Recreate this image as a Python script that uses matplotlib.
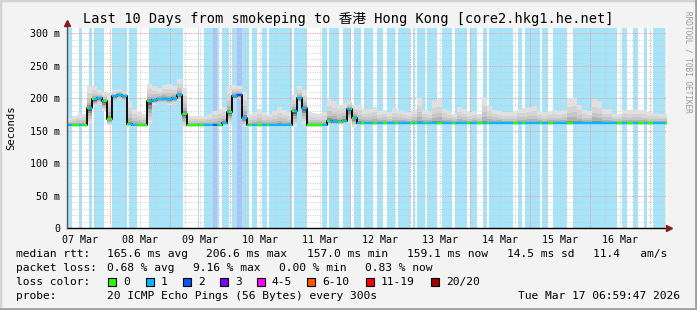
import numpy as np
import matplotlib
matplotlib.use("Agg")
import matplotlib.pyplot as plt
from matplotlib.patches import Rectangle

MONO = "DejaVu Sans Mono"
W, H = 697, 310

# x axis: hours since Sat Mar 07 07:00 (10 days, 240 h)
day_labels = ["07 Mar", "08 Mar", "09 Mar", "10 Mar", "11 Mar",
              "12 Mar", "13 Mar", "14 Mar", "15 Mar", "16 Mar"]
y_ticks = [0, 50, 100, 150, 200, 250, 300]
y_tick_labels = ["0", "50 m", "100 m", "150 m", "200 m", "250 m", "300 m"]

# median rtt per 2-hour bin (ms)
median_ms = ([158, 158, 158, 158, 185, 198, 200, 195, 168, 203, 205, 203,
              160, 158, 158, 158, 195, 197, 199, 199, 198, 200, 205, 175]
             + [158] * 7 + [162, 178, 203, 205, 170] + [158] * 9
             + [180, 200, 185, 158, 158, 158, 158, 165, 164, 163, 165, 183, 170]
             + [161] * 62)

# upper / lower edge of the smoke (ms)
smoke_hi_ms = [170, 172, 175, 176, 218, 218, 212, 210, 208, 212, 214, 210,
               195, 183, 178, 175, 222, 218, 215, 220, 222, 218, 230, 215,
               173, 172, 172, 173, 175, 180, 183, 186, 218, 220, 218, 210,
               175, 178, 183, 178, 176, 180, 186, 182, 178, 205, 218, 212,
               178, 177, 176, 178, 198, 195, 190, 193, 196, 190,
               190, 183, 184, 186, 180, 182, 178, 185, 182, 180, 178, 183,
               200, 182, 180, 195, 198, 184, 180, 176, 186, 183, 178, 180,
               176, 200, 188, 182, 180, 178,
               178, 178, 184, 185, 187, 188, 180, 178, 180, 181, 180, 182,
               198, 200, 190, 181, 180, 198, 195, 183, 183, 176, 175, 182,
               181, 183, 182, 181, 178, 177, 176, 176]
smoke_lo_ms = ([156, 156, 156, 156, 160, 188, 190, 180, 158, 195, 198, 195,
                156, 156, 156, 156, 160, 190, 192, 192, 190, 192, 196, 156]
               + [156] * 7 + [158, 160, 196, 198, 156] + [156] * 9
               + [156, 192, 160, 156, 156, 156, 156, 158, 160, 160, 160, 162, 156]
               + [159] * 62)

# periods with packet loss: start hour, end hour, lost pings
loss_start_h = [0.0, 4.8, 8.9, 10.8, 17.9, 24.9, 32.9, 52.3, 54.8, 58.5, 60.1,
                62.0, 66.0, 67.9, 70.0, 74.0, 78.0, 80.8, 90.8, 102.0, 104.9,
                110.5, 114.8, 118.8, 124.0, 128.0, 132.4, 138.4, 140.0, 144.0,
                150.0, 155.2, 161.2, 166.4, 168.8, 180.4, 183.2, 190.0, 194.4,
                202.4, 222.0, 226.4, 230.8, 234.4]
loss_end_h = [1.9, 5.9, 9.9, 14.9, 23.9, 28.1, 46.5, 52.9, 58.5, 60.1, 60.8,
              64.8, 67.9, 70.0, 72.8, 76.0, 80.0, 90.0, 95.9, 104.0, 108.7,
              113.5, 117.6, 122.4, 126.4, 131.2, 137.2, 139.2, 143.2, 148.0,
              154.0, 160.0, 164.0, 168.0, 178.4, 182.0, 189.2, 192.4, 200.0,
              220.0, 224.0, 228.4, 232.0, 239.2]
loss_count = [1, 1, 1, 1, 1, 1, 1, 1, 1, 2, 1,
              1, 1, 2, 1, 1, 1, 1, 1, 1, 1,
              1, 1, 1, 1, 1, 1, 1, 1, 1,
              1, 1, 1, 1, 1, 1, 1, 1, 1,
              1, 1, 1, 1, 1]

loss_names = ["0", "1", "2", "3", "4-5", "6-10", "11-19", "20/20"]
loss_colors = ["#26ff00", "#00b8ff", "#0059ff", "#7e00ff",
               "#ff00ff", "#ff5500", "#ff0000", "#a10000"]
loss_bg = {1: "#a6e4fa", 2: "#aac4fa"}

stats_rtt = ["165.6 ms avg", "206.6 ms max", "157.0 ms min",
             "159.1 ms now", "14.5 ms sd", "11.4   am/s"]
stats_loss = ["0.68 % avg", "9.16 % max", "0.00 % min", "0.83 % now"]


def fx(px):
    return px / W


def fy(py):
    return 1 - py / H


fig = plt.figure(figsize=(W / 100, H / 100), dpi=100, facecolor="#f3f3f3")
# frame
fig.patches.append(Rectangle((0, 0), 1, 1, transform=fig.transFigure,
                             fill=False, ec="#d4d4d4", lw=2.5))
fig.add_artist(plt.Line2D([0, 1], [fy(309), fy(309)], transform=fig.transFigure,
                          color="#a0a0a0", lw=2))
fig.add_artist(plt.Line2D([fx(696), fx(696)], [0, 1], transform=fig.transFigure,
                          color="#a0a0a0", lw=2))

ax = fig.add_axes([fx(67), fy(228), fx(600), 200 / H])
ax.set_facecolor("white")
ax.set_xlim(0, 240)
ax.set_ylim(0, 308)

# loss background
for s, e, c in zip(loss_start_h, loss_end_h, loss_count):
    ax.axvspan(s, e, color=loss_bg[c], lw=0, zorder=0)

# grid
dot = (0, (1, 1.4))
for h in np.arange(5, 240, 6):
    ax.axvline(h, color="#cccccc", lw=0.7, ls=dot, zorder=1)
for v in range(10, 310, 10):
    ax.axhline(v, color="#cccccc", lw=0.7, ls=dot, zorder=1)
for h in np.arange(17, 240, 24):
    ax.axvline(h, color="#ef9c9c", lw=0.7, ls=dot, zorder=1.1)
for v in y_ticks[1:]:
    ax.axhline(v, color="#ef9c9c", lw=0.7, ls=dot, zorder=1.1)

# smoke
edges = np.arange(0, 242, 2)
med = np.array(median_ms, float)
hi = np.array(smoke_hi_ms, float)
lo = np.array(smoke_lo_ms, float)
greys = ["#e0e0e0", "#d4d4d4", "#c6c6c6", "#b2b2b2", "#8e8e8e", "#5e5e5e"]
nb = len(greys)
for k in range(nb):
    f = 1 - k / nb
    top = med + (hi - med) * f ** 2
    bot = med - (med - lo) * f
    ax.fill_between(edges, np.append(bot, bot[-1]), np.append(top, top[-1]),
                    step="post", color=greys[k], lw=0, zorder=2)

# median line, coloured by loss
t = np.arange(600) * 0.4
med_fine = med[(t // 2).astype(int)]
loss_fine = np.zeros(600, int)
for s, e, c in zip(loss_start_h, loss_end_h, loss_count):
    loss_fine[(t + 0.2 >= s) & (t + 0.2 < e)] = c
ax.step(edges, np.append(med, med[-1]), where="post", color="black",
        lw=1.3, zorder=3)
ax.hlines(med_fine, t, t + 0.4, colors=[loss_colors[c] for c in loss_fine],
          lw=1.7, zorder=4)

# axes
for sp in ax.spines.values():
    sp.set_visible(False)
ax.set_xticks([5 + 24 * i for i in range(10)])
ax.set_xticklabels(day_labels)
ax.set_yticks(y_ticks)
ax.set_yticklabels(y_tick_labels)
ax.tick_params(length=0, pad=5, labelsize=7.2, colors="black")
for lab in ax.get_xticklabels() + ax.get_yticklabels():
    lab.set_family(MONO)
ax.plot([0, 240.4], [0, 0], color="black", lw=1, clip_on=False, zorder=6)
ax.plot([0, 0], [0, 316], color="#555555", lw=1, clip_on=False, zorder=6)
ax.plot([0], [316], marker="^", ms=5, color="#8b1a1a", clip_on=False, zorder=7)
ax.plot([240.6], [0], marker=">", ms=5, color="#8b1a1a", clip_on=False, zorder=7)

# texts
fig.text(fx(348), fy(19),
         "Last 10 Days from smokeping to 香港 Hong Kong [core2.hkg1.he.net]",
         ha="center", va="center", fontsize=9.8,
         family=[MONO, "Noto Sans CJK SC"])
fig.text(fx(11), fy(128), "Seconds", rotation=90, ha="center", va="center",
         fontsize=7.6, family=MONO)
fig.text(fx(688), fy(62), "RRDTOOL / TOBI OETIKER", rotation=270,
         ha="center", va="center", fontsize=5.6, family=MONO, color="#9a9a9a")

fs = 8.1
fig.text(fx(16), fy(254), "median rtt:", va="center", fontsize=fs, family=MONO)
for x, s in zip([107, 206, 307, 407, 507, 593], stats_rtt):
    fig.text(fx(x), fy(254), s, va="center", fontsize=fs, family=MONO)
fig.text(fx(16), fy(268), "packet loss:", va="center", fontsize=fs, family=MONO)
for x, s in zip([107, 193, 279, 365], stats_loss):
    fig.text(fx(x), fy(268), s, va="center", fontsize=fs, family=MONO)
fig.text(fx(16), fy(282), "loss color:", va="center", fontsize=fs, family=MONO)
for x, name, col in zip([108, 146, 183, 220, 257, 307, 366, 431],
                        loss_names, loss_colors):
    fig.patches.append(Rectangle((fx(x), fy(286)), fx(8), 8 / H,
                                 transform=fig.transFigure, fc=col,
                                 ec="black", lw=0.8))
    fig.text(fx(x + 15), fy(282), name, va="center", fontsize=fs, family=MONO)
fig.text(fx(16), fy(296), "probe:", va="center", fontsize=fs, family=MONO)
fig.text(fx(107), fy(296), "20 ICMP Echo Pings (56 Bytes) every 300s",
         va="center", fontsize=fs, family=MONO)
fig.text(fx(680), fy(296), "Tue Mar 17 06:59:47 2026", ha="right",
         va="center", fontsize=fs, family=MONO)

fig.savefig("out.png", dpi=100, facecolor=fig.get_facecolor())
